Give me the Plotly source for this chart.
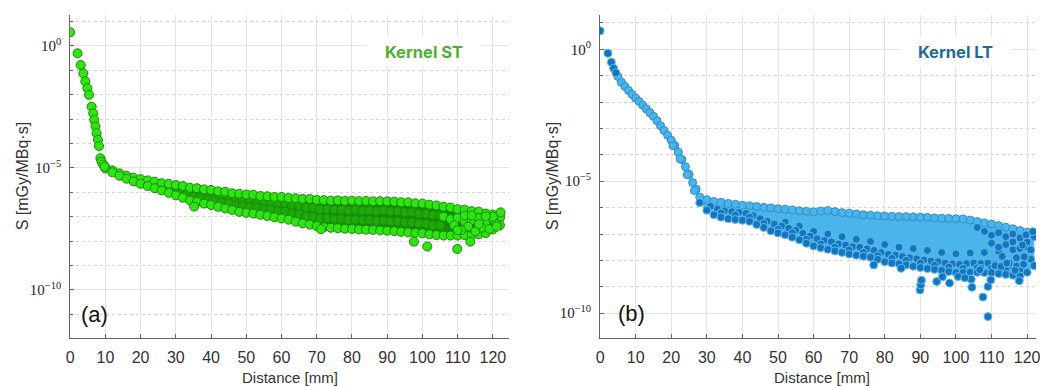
import numpy as np
import plotly.graph_objects as go

# ---------------- Panel (a): Kernel ST  (values are log10 of S [mGy/MBq·s]) ----------------
st_head_x = [0.0, 2.1, 3.0, 3.75, 4.3, 4.9, 5.35, 6.1, 6.55, 6.85, 7.2, 7.5, 7.9, 8.2, 8.6, 8.9, 9.4, 9.8]
st_head_log = [0.56, -0.30, -0.78, -1.12, -1.45, -1.73, -2.00, -2.49, -2.76, -3.03, -3.30, -3.58,
               -3.85, -4.10, -4.60, -4.74, -4.86, -4.95]

st_band_x = [10, 12, 14, 16, 18, 20, 22, 24, 26, 28, 30, 32, 34, 36, 38, 40, 42, 44, 46, 48, 50,
             52, 54, 56, 58, 60, 62, 64, 66, 68, 70, 72, 74, 76, 78, 80, 82, 84, 86, 88, 90,
             92, 94, 96, 98, 100, 102, 104, 106, 108, 110, 112, 114, 116, 118, 120, 122]
st_band_upper_log = [-4.97, -5.10, -5.22, -5.32, -5.40, -5.46, -5.51, -5.56, -5.63, -5.65, -5.70,
                     -5.74, -5.81, -5.83, -5.88, -5.90, -5.96, -5.98, -6.04, -6.06, -6.09, -6.10,
                     -6.15, -6.16, -6.19, -6.19, -6.23, -6.24, -6.27, -6.27, -6.31, -6.32, -6.34,
                     -6.33, -6.35, -6.34, -6.36, -6.35, -6.37, -6.36, -6.37, -6.38, -6.41, -6.41,
                     -6.45, -6.46, -6.51, -6.54, -6.59, -6.62, -6.69, -6.71, -6.77, -6.79, -6.87,
                     -6.91, -6.98]
st_band_lower_log = [-5.02, -5.18, -5.32, -5.44, -5.55, -5.65, -5.74, -5.83, -5.92, -6.02, -6.12,
                     -6.22, -6.33, -6.39, -6.46, -6.52, -6.59, -6.66, -6.72, -6.80, -6.84, -6.87,
                     -6.92, -6.97, -7.02, -7.07, -7.12, -7.20, -7.27, -7.32, -7.38, -7.43, -7.45,
                     -7.47, -7.49, -7.50, -7.52, -7.53, -7.54, -7.56, -7.57, -7.59, -7.62, -7.64,
                     -7.66, -7.68, -7.72, -7.75, -7.77, -7.77, -7.77, -7.75, -7.74, -7.72, -7.67,
                     -7.52, -7.05]
st_mid_x = [21, 23, 25, 27, 29, 31, 33, 35, 37, 39, 41, 43, 45, 47, 49, 51, 53, 55, 57, 59, 61,
            63, 65, 67, 69, 71, 73, 75, 77, 79, 81, 83, 85, 87, 89, 91, 93, 95, 97, 99, 101, 103,
            105]
st_mid1_log = [-5.56, -5.63, -5.68, -5.76, -5.80, -5.88, -5.93, -6.01, -6.03, -6.10, -6.13, -6.20,
               -6.22, -6.29, -6.31, -6.36, -6.37, -6.43, -6.44, -6.48, -6.49, -6.55, -6.57, -6.62,
               -6.63, -6.69, -6.69, -6.72, -6.71, -6.74, -6.72, -6.75, -6.74, -6.77, -6.75, -6.78,
               -6.78, -6.82, -6.82, -6.87, -6.88, -6.93, -6.95]
st_mid2_log = [-5.63, -5.71, -5.77, -5.87, -5.93, -6.03, -6.10, -6.19, -6.23, -6.30, -6.34, -6.42,
               -6.45, -6.54, -6.56, -6.61, -6.63, -6.69, -6.71, -6.77, -6.79, -6.87, -6.90, -6.97,
               -6.99, -7.06, -7.06, -7.10, -7.09, -7.13, -7.12, -7.15, -7.14, -7.17, -7.16, -7.19,
               -7.20, -7.24, -7.24, -7.28, -7.29, -7.35, -7.35]
st_sparse_x = [106, 108, 110, 112, 114, 116, 118, 120, 122, 109, 113, 117, 121, 111, 115, 119,
               112, 116, 120, 114, 118, 110]
st_sparse_log = [-7.00, -7.10, -7.05, -7.20, -7.15, -7.05, -7.20, -7.10, -7.35, -7.35, -7.40,
                 -7.45, -7.30, -7.55, -7.60, -7.50, -6.95, -7.30, -7.00, -6.95, -6.98, -7.55]
st_out_x = [97.6, 101.4, 109.9, 113.6, 71.2, 35.2, 122.2, 121.1]
st_out_log = [-8.02, -8.22, -8.32, -8.02, -7.51, -6.58, -6.82, -7.40]

# ---------------- Panel (b): Kernel LT ----------------
lt_head_dark_x = [0.0, 2.2, 3.15, 3.8, 4.45]
lt_head_dark_log = [0.70, -0.15, -0.49, -0.72, -0.89]
lt_head_x = [5, 6, 7, 8, 9, 10, 11, 12, 13, 14, 15, 16, 17, 18, 19, 20, 21, 22, 23, 24, 25, 26, 27,
             20.5, 22.5, 24.5, 26.5]
lt_head_log = [-1.03, -1.25, -1.41, -1.56, -1.71, -1.85, -1.98, -2.12, -2.26, -2.40, -2.54, -2.71,
               -2.90, -3.08, -3.26, -3.45, -3.65, -3.90, -4.18, -4.45, -4.74, -5.05, -5.30,
               -3.65, -4.15, -4.75, -5.35]

lt_band_x = [28, 30, 32, 34, 36, 38, 40, 42, 44, 46, 48, 50, 52, 54, 56, 58, 60, 62, 64, 66, 68,
             70, 72, 74, 76, 78, 80, 82, 84, 86, 88, 90, 92, 94, 96, 98, 100, 102, 104, 106, 108,
             110, 112, 114, 116, 118, 120, 122]
lt_band_upper_log = [-5.60, -5.70, -5.77, -5.80, -5.84, -5.87, -5.91, -5.93, -5.96, -5.99, -6.01,
                     -6.04, -6.06, -6.09, -6.12, -6.14, -6.16, -6.13, -6.11, -6.15, -6.19, -6.21,
                     -6.24, -6.27, -6.29, -6.31, -6.32, -6.33, -6.34, -6.34, -6.35, -6.36, -6.37,
                     -6.39, -6.40, -6.41, -6.42, -6.43, -6.47, -6.53, -6.58, -6.62, -6.68, -6.74,
                     -6.80, -6.87, -6.93, -7.00]
lt_band_lower_log = [-5.81, -6.10, -6.27, -6.36, -6.42, -6.45, -6.48, -6.52, -6.64, -6.75, -6.88,
                     -6.96, -7.03, -7.12, -7.22, -7.35, -7.45, -7.52, -7.58, -7.64, -7.70, -7.76,
                     -7.80, -7.84, -7.88, -7.96, -8.05, -8.10, -8.13, -8.17, -8.22, -8.27, -8.31,
                     -8.34, -8.38, -8.42, -8.46, -8.45, -8.44, -8.45, -8.46, -8.46, -8.50, -8.53,
                     -8.56, -8.59, -8.45, -8.20]
lt_dark_x = [31, 33, 35, 37, 39, 41, 43, 45, 47, 49, 51, 53, 55, 57, 59, 61, 63, 65, 67, 69, 71,
             73, 75, 77, 79, 81, 83, 85, 87, 89, 91, 93, 95, 97, 99, 101, 103, 105, 107, 109,
             111, 113, 115, 117, 119, 121]
lt_dark_log = [-5.95, -6.05, -6.12, -6.15, -6.18, -6.22, -6.30, -6.42, -6.52, -6.62, -6.70, -6.78,
               -6.86, -6.97, -7.08, -7.18, -7.25, -7.30, -7.38, -7.42, -7.48, -7.50, -7.56, -7.62,
               -7.70, -7.77, -7.80, -7.85, -7.90, -7.94, -7.98, -8.02, -8.05, -8.10, -8.13, -8.15,
               -8.12, -8.10, -8.12, -8.10, -8.15, -8.18, -8.20, -8.22, -8.15, -7.95]
lt_dark2_x = [52, 56, 60, 64, 68, 72, 76, 80, 84, 88, 92, 96, 100, 104, 108, 112, 116, 120]
lt_dark2_log = [-6.55, -6.70, -6.90, -7.00, -7.10, -7.20, -7.28, -7.40, -7.50, -7.55, -7.62,
                -7.70, -7.75, -7.72, -7.70, -7.65, -7.60, -7.50]
lt_dark3_x = [34, 38, 42, 46, 50, 54, 58, 62, 66, 70, 74, 78, 82, 86, 90, 94, 98, 102, 106, 110,
              114, 118]
lt_dark3_log = [-6.20, -6.28, -6.36, -6.60, -6.82, -6.95, -7.20, -7.38, -7.50, -7.60, -7.70, -7.82,
                -7.92, -8.00, -8.10, -8.18, -8.25, -8.30, -8.28, -8.30, -8.35, -8.40]
lt_sparse_x = [106, 108, 110, 112, 114, 116, 118, 120, 122, 110, 114, 118, 121, 116, 112, 119.5,
               117, 113, 115, 107, 111]
lt_sparse_log = [-6.75, -6.90, -7.05, -6.95, -7.10, -7.00, -7.15, -7.30, -7.10, -7.35, -7.40,
                 -7.55, -7.60, -7.30, -7.50, -7.85, -7.90, -7.85, -8.10, -8.30, -8.20]
lt_out_x = [89.9, 90.1, 90.3, 107.6, 109.0, 104.5, 104.3, 94.6, 98.2, 100.6, 117.8, 109.0, 109.8,
            112.7, 114.3, 116.6, 119.2, 118.7, 119.7, 121.6, 106.7, 84.6, 76.9, 96.2, 102.5]
lt_out_log = [-9.12, -8.93, -8.75, -9.39, -10.13, -9.02, -8.71, -8.80, -8.86, -8.61, -8.77, -8.99,
              -8.74, -8.23, -8.10, -8.38, -7.86, -7.42, -7.03, -6.91, -8.36, -8.30, -8.17, -8.62,
              -8.66]

# ---------------- Styles ----------------
ST_FILL = "#2ee411"
ST_EDGE = "#178a00"
ST_BAND = "#168c02"
ST_MID = "#1fa80a"
LT_LIGHT = "#4bb4ea"
LT_DARK = "#1675bf"
LT_HALO = "#62bbea"


def S(vals):
    return np.power(10.0, np.asarray(vals, dtype=float))


fig = go.Figure()


def pts(x, logs, ax, size, color, edge, width=1.0):
    fig.add_trace(go.Scatter(x=x, y=S(logs), mode="markers", xaxis="x" + ax, yaxis="y" + ax,
                             hoverinfo="skip",
                             marker=dict(size=size, color=color, line=dict(color=edge, width=width))))


# --- panel a ---
fig.add_trace(go.Scatter(x=st_band_x + st_band_x[::-1],
                         y=S(st_band_upper_log + st_band_lower_log[::-1]),
                         fill="toself", fillcolor=ST_BAND, mode="lines", line=dict(width=0),
                         xaxis="x", yaxis="y", hoverinfo="skip"))
pts(st_mid_x, st_mid1_log, "", 9, ST_MID, ST_EDGE)
pts(st_mid_x, st_mid2_log, "", 9, ST_MID, ST_EDGE)
pts(st_band_x, st_band_upper_log, "", 9, ST_FILL, ST_EDGE)
pts(st_band_x, st_band_lower_log, "", 9, ST_FILL, ST_EDGE)
pts(st_sparse_x, st_sparse_log, "", 9, ST_FILL, ST_EDGE)
pts(st_out_x, st_out_log, "", 9, ST_FILL, ST_EDGE)
pts(st_head_x, st_head_log, "", 9, ST_FILL, ST_EDGE)

# --- panel b ---
fig.add_trace(go.Scatter(x=lt_band_x + lt_band_x[::-1],
                         y=S(lt_band_upper_log + lt_band_lower_log[::-1]),
                         fill="toself", fillcolor=LT_LIGHT, mode="lines", line=dict(width=0),
                         xaxis="x2", yaxis="y2", hoverinfo="skip"))
pts(lt_head_x, lt_head_log, "2", 8, LT_LIGHT, "#2b8ccf")
pts(lt_band_x, lt_band_upper_log, "2", 8, LT_LIGHT, "#2f8fd0")
pts(lt_dark2_x, lt_dark2_log, "2", 8, LT_DARK, LT_HALO)
pts(lt_dark_x, lt_dark_log, "2", 8, LT_DARK, LT_HALO)
pts(lt_dark3_x, lt_dark3_log, "2", 8, LT_DARK, LT_HALO)
pts(lt_band_x, lt_band_lower_log, "2", 8, LT_DARK, LT_HALO)
pts(lt_sparse_x, lt_sparse_log, "2", 8, LT_DARK, LT_HALO)
pts(lt_out_x, lt_out_log, "2", 8, LT_DARK, LT_HALO)
pts(lt_head_dark_x, lt_head_dark_log, "2", 8, "#0d73bd", LT_HALO)

# ---------------- Axes ----------------
GRID = "#e4e4e4"
MINOR_GRID = "#d4d4d4"
AXIS = "#646464"
tick_font = dict(family="Liberation Sans, Arial, sans-serif", size=16, color="#333333")
ytick_font = dict(family="Liberation Serif, Times New Roman, serif", size=15, color="#222222")
major_y = [1e-10, 1e-5, 1e0]
major_y_text = ["10<sup>\u221210</sup>", "10<sup>\u22125</sup>", "10<sup>0</sup>"]
minor_y = [10.0 ** k for k in range(-12, 2) if k % 5 != 0]


def xaxis_cfg(domain, rng, anchor):
    return dict(domain=domain, range=rng, anchor=anchor, tick0=0, dtick=10, showgrid=True,
                gridcolor=GRID, gridwidth=1, showline=True, linecolor=AXIS, linewidth=1,
                ticks="inside", ticklen=4, tickcolor=AXIS, tickfont=tick_font, zeroline=False,
                ticklabelstandoff=5, ticklabeloverflow="allow", fixedrange=True)


def yaxis_cfg(anchor, rng):
    return dict(domain=[0.1244, 0.9611], type="log", range=rng, anchor=anchor,
                tickmode="array", tickvals=major_y, ticktext=major_y_text,
                showgrid=True, gridcolor=GRID, gridwidth=1, showline=True, linecolor=AXIS,
                linewidth=1, ticks="inside", ticklen=4, tickcolor=AXIS, tickfont=ytick_font,
                zeroline=False, ticklabelstandoff=5,
                minor=dict(tickmode="array", tickvals=minor_y, showgrid=True,
                           gridcolor=MINOR_GRID, griddash="dot", gridwidth=1,
                           ticks="inside", ticklen=3, tickcolor=AXIS))


fig.update_layout(
    width=1040, height=386, margin=dict(l=0, r=0, t=0, b=0),
    paper_bgcolor="white", plot_bgcolor="white", showlegend=False,
    xaxis=xaxis_cfg([0.0641, 0.4894], [0, 124.6], "y"),
    yaxis=yaxis_cfg("x", [-11.97, 1.27]),
    xaxis2=xaxis_cfg([0.5776, 1.0], [0, 122.5], "y2"),
    yaxis2=yaxis_cfg("x2", [-10.94, 1.30]),
)

label_font = dict(family="Liberation Sans, Arial, sans-serif", size=15, color="#333333")
ylabel_font = dict(family="Liberation Sans, Arial, sans-serif", size=16, color="#333333")
anns = [
    dict(text="Distance [mm]", x=288 / 1040, y=(386 - 377) / 386, font=label_font),
    dict(text="Distance [mm]", x=824 / 1040, y=(386 - 377) / 386, font=label_font),
    dict(text="S [mGy/MBq\u00b7s]", x=19 / 1040, y=(386 - 176.5) / 386, font=ylabel_font, textangle=-90),
    dict(text="S [mGy/MBq\u00b7s]", x=553 / 1040, y=(386 - 176.5) / 386, font=ylabel_font, textangle=-90),
    dict(text="(a)", x=91 / 1040, y=(386 - 314) / 386,
         font=dict(family="Liberation Sans, Arial, sans-serif", size=22, color="#111111")),
    dict(text="(b)", x=632.5 / 1040, y=(386 - 313) / 386,
         font=dict(family="Liberation Sans, Arial, sans-serif", size=22, color="#111111")),
    dict(text="<b>Kernel ST</b>", x=423 / 1040, y=(386 - 51) / 386, bgcolor="white",
         width=112, height=27, font=dict(family="Inter, Open Sans, sans-serif", size=16.5, color="#4caf32")),
    dict(text="<b>Kernel LT</b>", x=958.5 / 1040, y=(386 - 51) / 386, bgcolor="white",
         width=107, height=27, font=dict(family="Inter, Open Sans, sans-serif", size=16.5, color="#1f6b94")),
]
for a in anns:
    a.update(xref="paper", yref="paper", showarrow=False, xanchor="center", yanchor="middle")
fig.update_layout(annotations=anns)

fig.write_html("out.html")
